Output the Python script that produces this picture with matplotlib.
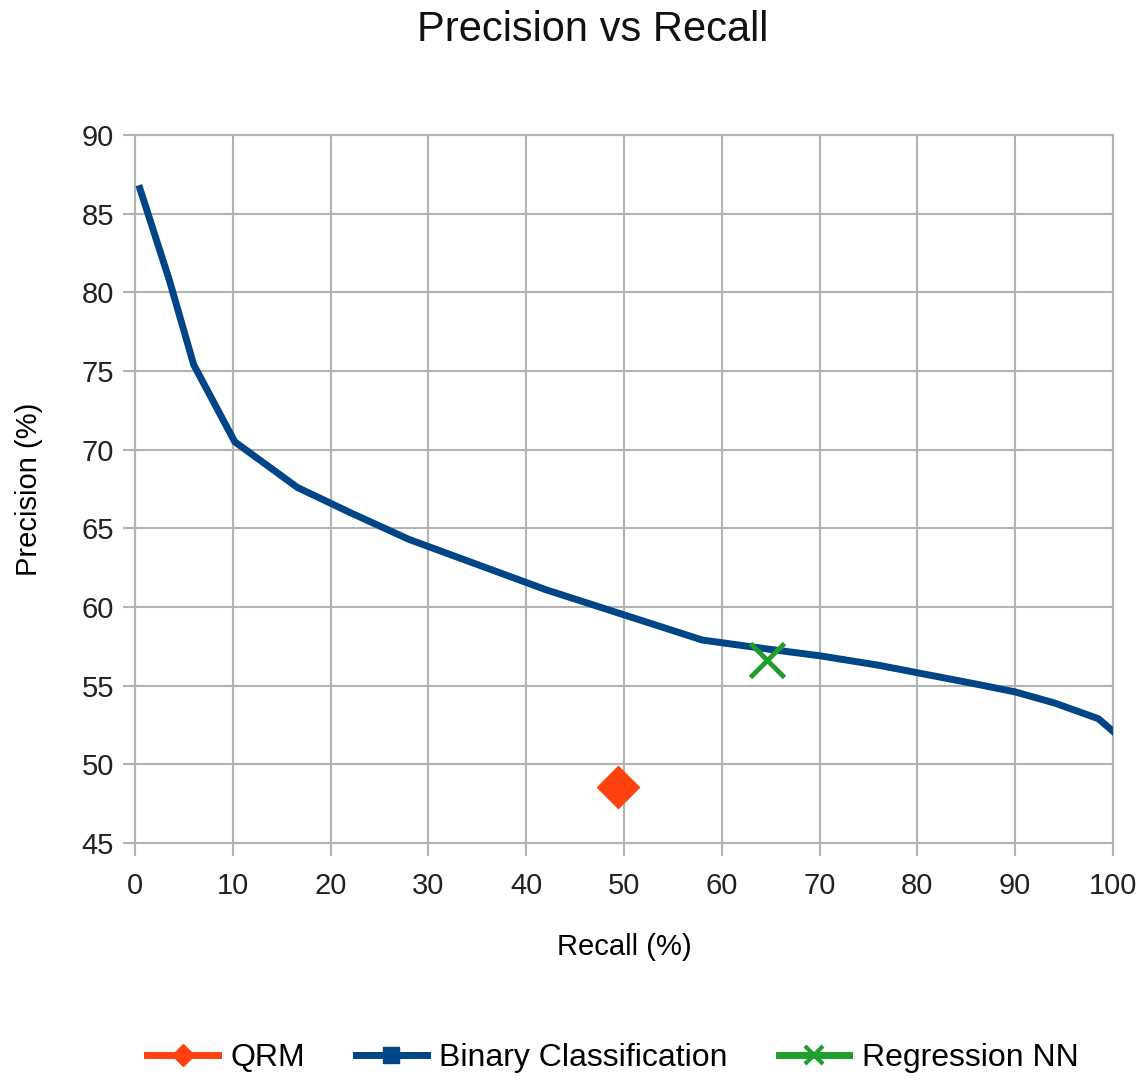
import matplotlib.pyplot as plt
from matplotlib.lines import Line2D

plt.rcParams['font.family'] = ['Liberation Sans', 'DejaVu Sans']

# Binary Classification curve
recall_bc = [0.5, 3.5, 6.0, 10.2, 16.6, 22, 28, 35, 42, 50, 58, 65, 70, 76, 81, 86, 90, 94, 98.5, 100]
precision_bc = [86.6, 80.8, 75.4, 70.5, 67.6, 66.0, 64.3, 62.7, 61.1, 59.5,
                57.9, 57.3, 56.9, 56.3, 55.7, 55.1, 54.6, 53.9, 52.9, 52.1]

# single points
recall_qrm = [49.4]
precision_qrm = [48.55]
recall_nn = [64.6]
precision_nn = [56.6]

fig = plt.figure(figsize=(11.46, 10.81), dpi=100)
ax = fig.add_axes([0.1178, 0.2202, 0.8534, 0.6549])

ax.plot(recall_qrm, precision_qrm, color='#ff420e', marker='D', markersize=21,
        linestyle='none', label='QRM', zorder=3)
ax.plot(recall_bc, precision_bc, color='#004586', linewidth=5,
        label='Binary Classification', zorder=4, solid_joinstyle='round')
ax.plot(recall_nn, precision_nn, color='#1f9e2c', marker='x', markersize=24,
        markeredgewidth=3.5, linestyle='none', label='Regression NN', zorder=5)

ax.set_xlim(0, 100)
ax.set_ylim(45, 90)
ax.set_xticks(range(0, 101, 10))
ax.set_yticks(range(45, 91, 5))
ax.grid(True, color='#b3b3b3', linewidth=1.5)
ax.set_axisbelow(True)
for s in ax.spines.values():
    s.set_color('#b3b3b3')
    s.set_linewidth(1.5)
ax.tick_params(axis='both', labelsize=21, color='#b3b3b3', length=9, width=1.5,
               labelcolor='#222222')
ax.tick_params(axis='x', pad=12)
ax.tick_params(axis='y', pad=6)

fig.text(593 / 1146, 1 - 30 / 1081, 'Precision vs Recall', fontsize=30, color='#111111',
         ha='center', va='center')
ax.set_xlabel('Recall (%)', fontsize=21, labelpad=24)
ax.set_ylabel('Precision (%)', fontsize=21, labelpad=28)

# legend handles with line + marker
handles = [
    Line2D([], [], color='#ff420e', linewidth=5, marker='D', markersize=11),
    Line2D([], [], color='#004586', linewidth=5, marker='s', markersize=12),
    Line2D([], [], color='#1f9e2c', linewidth=5, marker='x', markersize=13, markeredgewidth=3),
]
fig.legend(handles, ['QRM', 'Binary Classification', 'Regression NN'],
           loc='center', bbox_to_anchor=(0.535, 1 - 1058 / 1081), ncol=3, frameon=False,
           fontsize=23, handlelength=2.2, handletextpad=0.4, columnspacing=1.6)

fig.savefig('out.png', dpi=100)
plt.close(fig)
